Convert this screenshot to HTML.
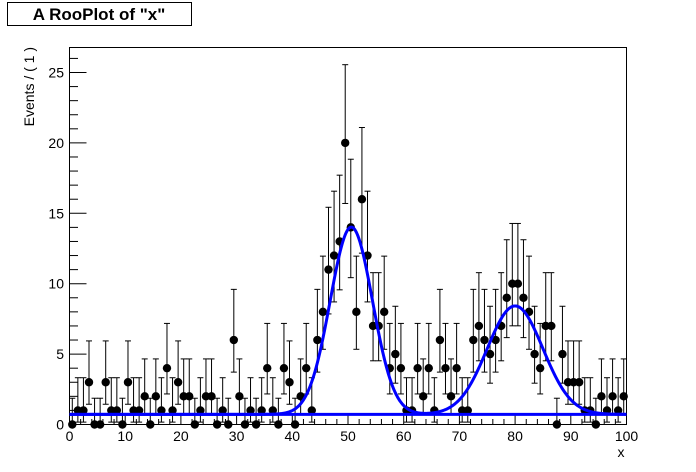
<!DOCTYPE html>
<html><head><meta charset="utf-8"><style>
html,body{margin:0;padding:0;background:#fff;}
svg{display:block;font-family:"Liberation Sans",Arial,sans-serif;}
</style></head><body>
<svg id="s" width="696" height="472" xmlns="http://www.w3.org/2000/svg">
<rect x="0" y="0" width="696" height="472" fill="#fff"/>
<rect x="7.5" y="2.5" width="184" height="23" fill="#fff" stroke="#000" stroke-width="1"/>
<text x="99" y="20" font-size="17" font-weight="bold" text-anchor="middle">A RooPlot of "x"</text>
<rect x="69.5" y="47.5" width="557" height="377" fill="none" stroke="#000" stroke-width="1"/>
<text transform="translate(34,47) rotate(-90)" font-size="14" text-anchor="end">Events / ( 1 )</text>
<text x="621" y="457" font-size="14" text-anchor="middle">x</text>
<g id="g"></g>
</svg>
<script>
var X0=69.5,X1=626.5,Y0=424.5,PY=14.08;
function px(x){return X0+(X1-X0)*x/100;}
function py(v){return Y0-v*PY;}
var h='';
// x ticks
for(var i=0;i<=50;i++){var x=px(i*2);var L=(i%5==0)?11:5.5;h+='<line x1="'+x+'" y1="'+Y0+'" x2="'+x+'" y2="'+(Y0-L)+'" stroke="#000"/>';
if(i%5==0)h+='<text x="'+x+'" y="441" font-size="14" text-anchor="middle">'+(i*2)+'</text>';}
for(var v=0;v<=26;v++){var y=py(v);var L=(v%5==0)?17:8.5;h+='<line x1="'+X0+'" y1="'+y+'" x2="'+(X0+L)+'" y2="'+y+'" stroke="#000"/>';
if(v%5==0)h+='<text x="64" y="'+(y+5)+'" font-size="14" text-anchor="end">'+v+'</text>';}
var d=[0,1,1,3,0,0,3,1,1,0,3,1,1,2,0,2,1,4,1,3,2,2,0,1,2,2,0,1,0,6,2,0,1,0,1,4,1,0,4,3,0,2,4,1,6,8,11,12,13,20,14,8,16,12,7,7,8,4,5,4,1,1,4,2,4,1,6,4,2,4,1,1,6,7,6,5,6,7,9,10,10,9,8,5,4,7,7,0,5,3,3,3,1,1,0,2,1,2,1,2];
for(var i=0;i<100;i++){var n=d[i];var x=px(i+0.5);var up=n+Math.sqrt(n+0.75)+1;var lo=n>0?Math.max(0,n-Math.sqrt(n)+0.17):n;
h+='<line x1="'+x+'" y1="'+py(up)+'" x2="'+x+'" y2="'+py(lo)+'" stroke="#000"/>';
h+='<line x1="'+(x-3)+'" y1="'+py(up)+'" x2="'+(x+3)+'" y2="'+py(up)+'" stroke="#000"/>';
if(n>0)h+='<line x1="'+(x-3)+'" y1="'+py(lo)+'" x2="'+(x+3)+'" y2="'+py(lo)+'" stroke="#000"/>';
h+='<circle cx="'+x+'" cy="'+py(n)+'" r="4.2" fill="#000"/>';}
var bg=0.72;
h+='<line x1="'+X0+'" y1="'+py(bg)+'" x2="'+X1+'" y2="'+py(bg)+'" stroke="#0000ff" stroke-width="3"/>';
var p='';
for(var t=0;t<=1000;t++){var x=t/10;var v=bg+13.3*Math.exp(-Math.pow(x-50.6,2)/(2*3.8*3.8))+7.7*Math.exp(-Math.pow(x-80,2)/(2*5*5));
p+=(t?'L':'M')+px(x).toFixed(2)+','+py(v).toFixed(2);}
h+='<path d="'+p+'" fill="none" stroke="#0000ff" stroke-width="3"/>';
document.getElementById('g').innerHTML=h;
</script>
</body></html>
